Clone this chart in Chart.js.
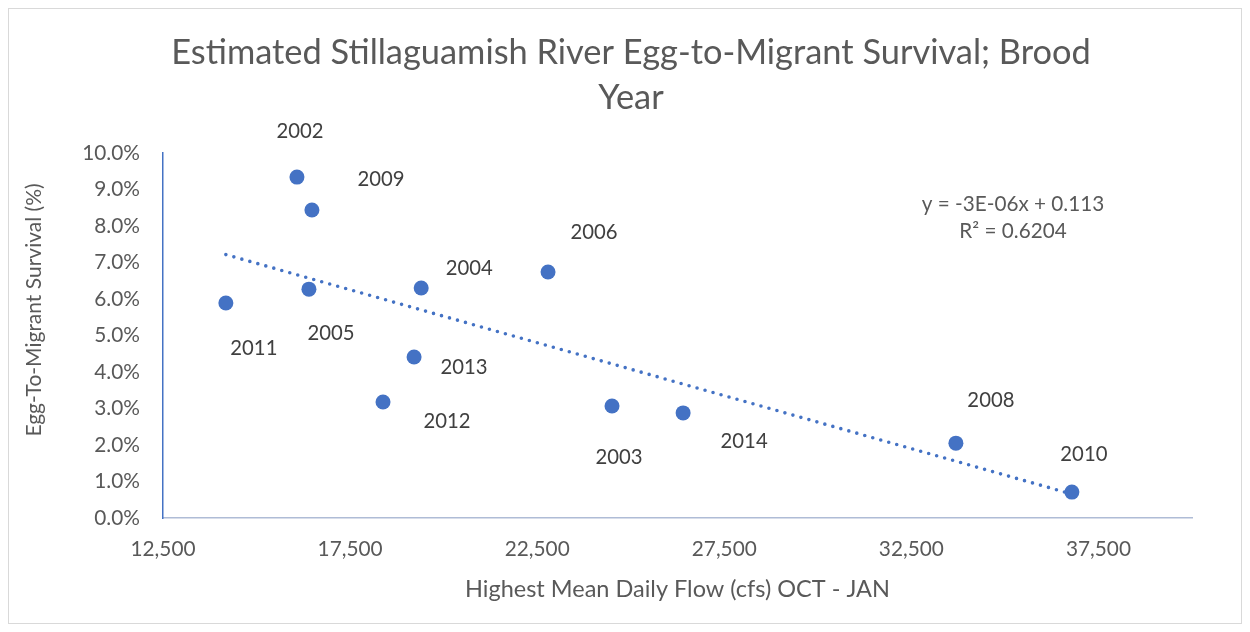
<!DOCTYPE html>
<html>
<head>
<meta charset="utf-8">
<script src="https://cdn.jsdelivr.net/npm/chart.js@4.4.1/dist/chart.umd.min.js"></script>
<style>
  html, body { margin: 0; padding: 0; background: #ffffff; }
  #wrap { position: relative; width: 1250px; height: 632px; }
</style>
</head>
<body>
<div id="wrap"><canvas id="c" width="1250" height="632"></canvas></div>
<script>
// ---- Data ----
const years    = ['2002', '2003', '2004', '2005', '2006', '2008', '2009', '2010', '2011', '2012', '2013', '2014'];
const flows    = [16080, 24500, 19400, 16400, 22790, 33690, 16480, 36790, 14180, 18380, 19210, 26400];
const survival = [0.0934, 0.0307, 0.0630, 0.0627, 0.0674, 0.0205, 0.0844, 0.0071, 0.0589, 0.0318, 0.0441, 0.0288];

const xTicks = [12500, 17500, 22500, 27500, 32500, 37500];
const yTicks = [0, 0.01, 0.02, 0.03, 0.04, 0.05, 0.06, 0.07, 0.08, 0.09, 0.10];

const titleLines = ['Estimated Stillaguamish River Egg-to-Migrant Survival; Brood', 'Year'];
const xTitle = 'Highest Mean Daily Flow (cfs) OCT - JAN';
const yTitle = 'Egg-To-Migrant Survival (%)';
const equationLines = ['y = -3E-06x + 0.113', 'R\u00B2 = 0.6204'];

// ---- Styling / layout (not data) ----
const BLUE = '#4472C4';
const TEXT = '#595959';
const FONT = 'Lato, "Open Sans", sans-serif';

// label offset (px) of each year label centre relative to its point
const labelOffsets = {
  '2002': [3, -46], '2009': [69, -30], '2011': [28, 45], '2005': [22, 44],
  '2004': [48, -20], '2006': [46, -40], '2013': [50, 10], '2012': [64, 20],
  '2003': [7, 52], '2014': [61, 29], '2008': [35, -43], '2010': [12, -38]
};

// ---- Least-squares linear trendline from the data ----
const n = flows.length;
const mx = flows.reduce((a, b) => a + b, 0) / n;
const my = survival.reduce((a, b) => a + b, 0) / n;
let sxy = 0, sxx = 0;
for (let i = 0; i < n; i++) { sxy += (flows[i] - mx) * (survival[i] - my); sxx += (flows[i] - mx) ** 2; }
const slope = sxy / sxx;
const intercept = my - slope * mx;
const xMin = Math.min(...flows), xMax = Math.max(...flows);
const trendPts = [xMin, xMax].map(x => ({ x: x, y: intercept + slope * x }));

const points = flows.map((x, i) => ({ x: x, y: survival[i] }));

const decorPlugin = {
  id: 'decor',
  beforeDraw(chart) {
    const ctx = chart.ctx;
    ctx.save();
    ctx.fillStyle = '#ffffff';
    ctx.fillRect(0, 0, chart.width, chart.height);
    ctx.strokeStyle = '#D9D9D9';
    ctx.lineWidth = 1;
    ctx.strokeRect(8.5, 8.5, 1233, 615);
    ctx.restore();
  },
  afterDraw(chart) {
    const ctx = chart.ctx;
    const ca = chart.chartArea;
    ctx.save();
    ctx.fillStyle = TEXT;
    ctx.textAlign = 'center';
    ctx.textBaseline = 'middle';
    // title
    ctx.font = '34.4px ' + FONT;
    ctx.fillText(titleLines[0], 631, 53);
    ctx.fillText(titleLines[1], 631, 98);
    // axis titles
    ctx.font = '23.5px ' + FONT;
    ctx.fillText(xTitle, (ca.left + ca.right) / 2, 589);
    ctx.font = '21px ' + FONT;
    ctx.save();
    ctx.translate(34, 310);
    ctx.rotate(-Math.PI / 2);
    ctx.fillText(yTitle, 0, 0);
    ctx.restore();
    // equation
    ctx.font = '20.7px ' + FONT;
    ctx.fillText(equationLines[0], 1013, 204);
    ctx.fillText(equationLines[1], 1013, 231);
    // data labels
    const meta = chart.getDatasetMeta(1);
    ctx.font = '20.3px ' + FONT;
    ctx.fillStyle = '#404040';
    meta.data.forEach((el, i) => {
      const off = labelOffsets[years[i]] || [0, -30];
      ctx.fillText(years[i], el.x + off[0], el.y + off[1]);
    });
    ctx.restore();
  }
};

Chart.defaults.font.family = FONT;
Chart.defaults.color = TEXT;

new Chart(document.getElementById('c'), {
  type: 'scatter',
  data: {
    datasets: [
      {
        label: 'Linear trend',
        type: 'line',
        data: trendPts,
        borderColor: BLUE,
        borderWidth: 3.6,
        borderDash: [0, 8.3],
        borderCapStyle: 'round',
        pointRadius: 0,
        fill: false,
        tension: 0,
        order: 2
      },
      {
        label: 'Survival',
        data: points,
        backgroundColor: BLUE,
        borderColor: BLUE,
        borderWidth: 0,
        pointRadius: 7.5,
        pointHoverRadius: 7.5,
        order: 1
      }
    ]
  },
  options: {
    responsive: false,
    animation: false,
    events: [],
    layout: { padding: { top: 153, right: 58, left: 0, bottom: 0 } },
    plugins: { legend: { display: false }, title: { display: false }, tooltip: { enabled: false } },
    scales: {
      x: {
        type: 'linear',
        min: 12500,
        max: 40000,
        grid: { display: false, drawTicks: false },
        border: { display: true, color: '#AFBCD6', width: 1.5 },
        afterBuildTicks(scale) { scale.ticks = xTicks.map(v => ({ value: v })); },
        afterFit(scale) { scale.height = 632 - 518; },
        ticks: {
          padding: 19,
          maxRotation: 0,
          autoSkip: false,
          font: { size: 20.8 },
          color: TEXT,
          callback: v => v.toLocaleString('en-US')
        }
      },
      y: {
        type: 'linear',
        min: 0,
        max: 0.10,
        grid: { display: false, drawTicks: false },
        border: { display: true, color: BLUE, width: 1.5 },
        afterBuildTicks(scale) { scale.ticks = yTicks.map(v => ({ value: v })); },
        afterFit(scale) { scale.width = 163; },
        ticks: {
          padding: 23,
          autoSkip: false,
          font: { size: 20.8 },
          color: TEXT,
          callback: v => (v * 100).toFixed(1) + '%'
        }
      }
    }
  },
  plugins: [decorPlugin]
});
</script>
</body>
</html>
